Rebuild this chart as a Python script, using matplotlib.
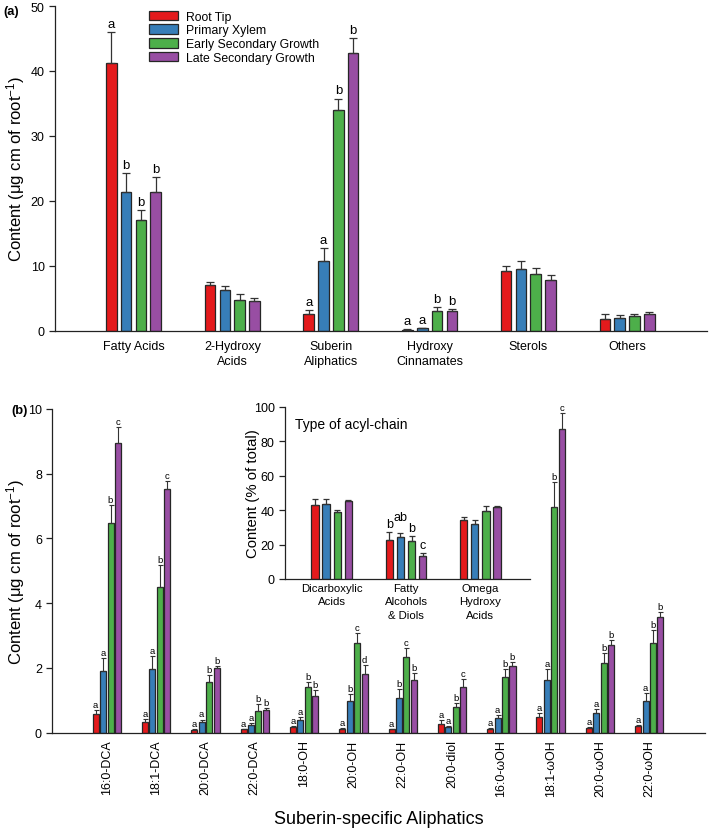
import matplotlib
matplotlib.use('Agg')
import matplotlib.pyplot as plt
from matplotlib.patches import Patch
import numpy as np

plt.rcParams['font.family'] = ['Liberation Sans', 'DejaVu Sans']
plt.rcParams['mathtext.default'] = 'regular'

# ---------------- data ----------------
series_names = ['Root Tip', 'Primary Xylem', 'Early Secondary Growth', 'Late Secondary Growth']

# panel (a)
classes_a = ['Fatty Acids', '2-Hydroxy\nAcids', 'Suberin\nAliphatics', 'Hydroxy\nCinnamates', 'Sterols', 'Others']
root_tip_a = [41.2, 7.03, 2.57, 0.15, 9.23, 1.75]
root_tip_a_err = [4.8, 0.47, 0.63, 0.05, 0.67, 0.85]
primary_xylem_a = [21.4, 6.3, 10.67, 0.35, 9.5, 1.9]
primary_xylem_a_err = [2.9, 0.6, 2.03, 0.12, 1.3, 0.45]
early_sec_a = [17.1, 4.77, 34.0, 3.08, 8.67, 2.26]
early_sec_a_err = [1.5, 0.83, 1.75, 0.5, 1.03, 0.34]
late_sec_a = [21.3, 4.5, 42.7, 2.98, 7.85, 2.57]
late_sec_a_err = [2.4, 0.5, 2.4, 0.32, 0.75, 0.33]
letters_a = [['a', '', 'a', 'a', '', ''],
             ['b', '', 'a', 'a', '', ''],
             ['b', '', 'b', 'b', '', ''],
             ['b', '', 'b', 'b', '', '']]

# panel (b)
compounds_b = ['16:0-DCA', '18:1-DCA', '20:0-DCA', '22:0-DCA', '18:0-OH', '20:0-OH',
               '22:0-OH', '20:0-diol', '16:0-ωOH', '18:1-ωOH', '20:0-ωOH', '22:0-ωOH']
root_tip_b = [0.57, 0.34, 0.09, 0.10, 0.18, 0.11, 0.10, 0.26, 0.12, 0.48, 0.13, 0.20]
root_tip_b_err = [0.12, 0.08, 0.02, 0.02, 0.03, 0.04, 0.02, 0.12, 0.02, 0.12, 0.03, 0.02]
primary_xylem_b = [1.90, 1.95, 0.34, 0.24, 0.39, 0.97, 1.07, 0.18, 0.45, 1.61, 0.60, 0.98]
primary_xylem_b_err = [0.40, 0.40, 0.06, 0.04, 0.08, 0.21, 0.27, 0.02, 0.10, 0.34, 0.13, 0.25]
early_sec_b = [6.48, 4.50, 1.56, 0.66, 1.40, 2.76, 2.34, 0.78, 1.71, 6.97, 2.15, 2.77]
early_sec_b_err = [0.56, 0.68, 0.22, 0.22, 0.15, 0.32, 0.28, 0.12, 0.26, 0.77, 0.30, 0.41]
late_sec_b = [8.95, 7.52, 1.99, 0.70, 1.12, 1.81, 1.61, 1.40, 2.05, 9.38, 2.71, 3.58]
late_sec_b_err = [0.48, 0.25, 0.06, 0.05, 0.20, 0.28, 0.23, 0.26, 0.13, 0.49, 0.14, 0.14]
letters_b = [['a', 'a', 'a', 'a', 'a', 'a', 'a', 'a', 'a', 'a', 'a', 'a'],
             ['a', 'a', 'a', 'a', 'a', 'b', 'b', 'a', 'a', 'a', 'a', 'a'],
             ['b', 'b', 'b', 'b', 'b', 'c', 'c', 'b', 'b', 'b', 'b', 'b'],
             ['c', 'c', 'b', 'b', 'b', 'd', 'b', 'c', 'b', 'c', 'b', 'b']]

# inset
chain_types = ['Dicarboxylic\nAcids', 'Fatty\nAlcohols\n& Diols', 'Omega\nHydroxy\nAcids']
root_tip_in = [42.9, 22.8, 34.3]
root_tip_in_err = [3.5, 4.5, 1.6]
primary_xylem_in = [43.7, 24.6, 32.0]
primary_xylem_in_err = [2.7, 1.9, 2.3]
early_sec_in = [39.0, 22.0, 39.4]
early_sec_in_err = [1.2, 3.1, 3.1]
late_sec_in = [45.0, 13.6, 41.7]
late_sec_in_err = [0.6, 1.6, 0.6]
letters_in = [['', 'b', ''], ['', 'ab', ''], ['', 'b', ''], ['', 'c', '']]

colors = ['#E41A1C', '#377EB8', '#4DAF4A', '#984EA3']
EDGE = '#262626'

W, H = 709, 829
fig = plt.figure(figsize=(W / 100, H / 100), dpi=100)


def px_axes(l, t, r, b):
    return fig.add_axes([l / W, 1 - b / H, (r - l) / W, (b - t) / H])


def style_axes(ax, fs):
    for s in ['top', 'right']:
        ax.spines[s].set_visible(False)
    for s in ['left', 'bottom']:
        ax.spines[s].set_linewidth(0.9)
        ax.spines[s].set_color('#222222')
    ax.tick_params(axis='y', direction='out', length=4, width=0.9, labelsize=fs, colors='#222222', labelcolor='black')
    ax.tick_params(axis='x', length=0)


def draw_bars(ax, values, errs, letters, width, step, capsize, lfs, pad, elw=0.9, extra=None):
    n = len(values[0])
    x = np.arange(n)
    for k in range(4):
        xs = x + (k - 1.5) * step
        v = np.array(values[k])
        e = np.array(errs[k])
        ax.bar(xs, v, width, color=colors[k], edgecolor=EDGE, linewidth=0.9, zorder=2)
        ax.errorbar(xs, v, yerr=[np.zeros(n), e], fmt='none', ecolor='#333333',
                    elinewidth=elw, capsize=capsize, capthick=elw, zorder=3)
        for i in range(n):
            lab = letters[k][i]
            if lab:
                off = pad + (extra.get(lab, 0) if extra else 0)
                ax.annotate(lab, (xs[i], v[i] + e[i]), xytext=(0, off), textcoords='offset points',
                            ha='center', va='bottom', fontsize=lfs)
    return x


# ---------------- panel (a) ----------------
ax_a = px_axes(55, 7, 707, 331.7)
style_axes(ax_a, 9)
xa = draw_bars(ax_a,
               [root_tip_a, primary_xylem_a, early_sec_a, late_sec_a],
               [root_tip_a_err, primary_xylem_a_err, early_sec_a_err, late_sec_a_err],
               letters_a, width=0.108, step=0.15, capsize=3, lfs=9.5, pad=1.5)
ax_a.set_xlim(-0.796, 5.81)
ax_a.set_ylim(0, 50)
ax_a.set_yticks([0, 10, 20, 30, 40, 50])
ax_a.set_xticks(xa)
ax_a.set_xticklabels(classes_a, fontsize=9, linespacing=1.3)
ax_a.tick_params(axis='x', pad=7)
ax_a.set_ylabel(r'Content (μg cm of root$^{-1}$)', fontsize=12)
ax_a.yaxis.set_label_coords(-28 / 652, 0.5)

handles = [Patch(facecolor=c, edgecolor=EDGE, linewidth=0.9) for c in colors]
fig.legend(handles, series_names, loc='upper left', bbox_to_anchor=(149 / W, 1 - 11.5 / H),
           bbox_transform=fig.transFigure, frameon=False, fontsize=8.8, borderpad=0,
           borderaxespad=0, handlelength=2.4, handleheight=0.85, handletextpad=0.65,
           labelspacing=0.13)

fig.text(3.5 / W, 1 - 11.5 / H, '(a)', fontsize=9.3, fontweight='bold', va='center', ha='left')

# ---------------- panel (b) ----------------
ax_b = px_axes(52.3, 410, 705, 733.5)
style_axes(ax_b, 9)
xb = draw_bars(ax_b,
               [root_tip_b, primary_xylem_b, early_sec_b, late_sec_b],
               [root_tip_b_err, primary_xylem_b_err, early_sec_b_err, late_sec_b_err],
               letters_b, width=0.122, step=0.151, capsize=1.8, lfs=6.8, pad=0.8, elw=0.8)
ax_b.set_xlim(-1.105, 12.13)
ax_b.set_ylim(0, 10)
ax_b.set_yticks([0, 2, 4, 6, 8, 10])
ax_b.set_xticks(xb)
ax_b.set_xticklabels(compounds_b, rotation=90, fontsize=9)
ax_b.tick_params(axis='x', pad=5)
ax_b.set_ylabel(r'Content (μg cm of root$^{-1}$)', fontsize=12)
ax_b.yaxis.set_label_coords(-25.3 / 652.7, 0.5)
ax_b.set_xlabel('Suberin-specific Aliphatics', fontsize=13, labelpad=10)

fig.text(11.5 / W, 1 - 411 / H, '(b)', fontsize=9.3, fontweight='bold', va='center', ha='left')

# ---------------- inset ----------------
ax_in = px_axes(285, 407.7, 530, 580)
style_axes(ax_in, 9)
xi = draw_bars(ax_in,
               [root_tip_in, primary_xylem_in, early_sec_in, late_sec_in],
               [root_tip_in_err, primary_xylem_in_err, early_sec_in_err, late_sec_in_err],
               letters_in, width=0.1, step=0.15, capsize=2.2, lfs=9, pad=1.5, extra={'ab': 6})
ax_in.set_xlim(-0.63, 2.67)
ax_in.set_ylim(0, 100)
ax_in.set_yticks([0, 20, 40, 60, 80, 100])
ax_in.set_xticks(xi)
ax_in.set_xticklabels(chain_types, fontsize=8.2, linespacing=1.4)
ax_in.tick_params(axis='x', pad=3)
ax_in.set_ylabel('Content (% of total)', fontsize=10.7)
ax_in.yaxis.set_label_coords(-25.5 / 245, 0.5)
ax_in.text(0.04, 0.9, 'Type of acyl-chain', transform=ax_in.transAxes, fontsize=10,
           ha='left', va='center')

fig.savefig('out.png', dpi=100)
